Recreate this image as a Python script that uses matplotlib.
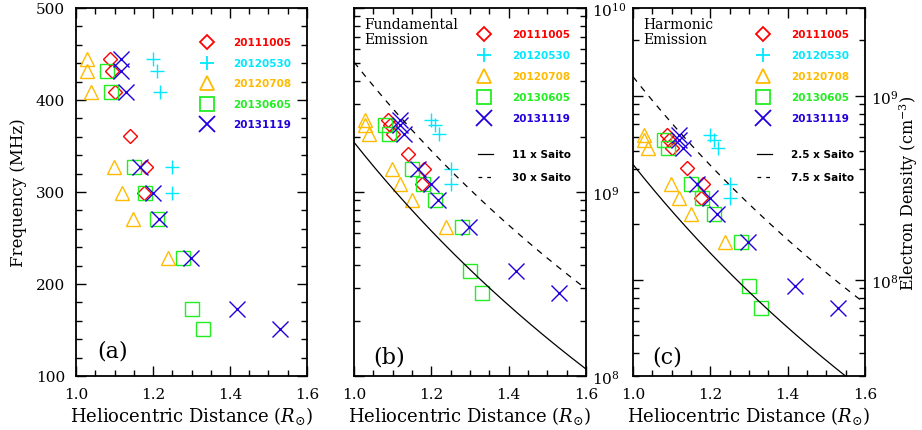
import numpy as np
import matplotlib.pyplot as plt
from matplotlib.ticker import MultipleLocator, LogLocator, NullFormatter, LogFormatterSciNotation

plt.rcParams['font.family'] = 'DejaVu Serif'
plt.rcParams['mathtext.fontset'] = 'dejavuserif'

# Source positions (R_sun) at the NRH frequencies (MHz) for each event
events = ['20111005', '20120530', '20120708', '20130605', '20131119']

f_20111005 = [445.0, 432.0, 408.8, 360.8, 327.0, 298.7]
r_20111005 = [1.088, 1.094, 1.100, 1.140, 1.181, 1.177]

f_20120530 = [445.0, 432.0, 408.8, 327.0, 298.7]
r_20120530 = [1.199, 1.210, 1.219, 1.250, 1.250]

f_20120708 = [445.0, 432.0, 408.8, 327.0, 298.7, 270.6, 228.0]
r_20120708 = [1.029, 1.029, 1.039, 1.099, 1.119, 1.149, 1.239]

f_20130605 = [432.0, 408.8, 327.0, 298.7, 270.6, 228.0, 173.2, 150.9]
r_20130605 = [1.080, 1.090, 1.150, 1.179, 1.210, 1.279, 1.300, 1.331]

f_20131119 = [445.0, 432.0, 408.8, 327.0, 298.7, 270.6, 228.0, 173.2, 150.9]
r_20131119 = [1.118, 1.118, 1.129, 1.166, 1.199, 1.216, 1.298, 1.419, 1.530]

freqs = [f_20111005, f_20120530, f_20120708, f_20130605, f_20131119]
dists = [r_20111005, r_20120530, r_20120708, r_20130605, r_20131119]

colors = ['#ff0000', '#00e8ff', '#ffbb00', '#22ee22', '#2200dd']
markers = ['D', '+', '^', 's', 'x']
msizes = [7.0, 10.5, 10.5, 10.5, 11.5]

# Saito multipliers for fundamental / harmonic panels
fund_mult = [11, 30]
harm_mult = [2.5, 7.5]


def saito(r):
    return 1.36e6 * r ** -2.14 + 1.68e8 * r ** -6.13


def density(f_mhz, harmonic=1):
    # plasma frequency f_p = 8980 sqrt(n) Hz
    return (np.asarray(f_mhz) * 1e6 / (8980.0 * harmonic)) ** 2


fig = plt.figure(figsize=(9.22, 4.31), dpi=100)
W, H = 922.0, 431.0
ax_a = fig.add_axes([76 / W, 1 - 377 / H, 231 / W, 368 / H])
ax_b = fig.add_axes([354 / W, 1 - 377 / H, 232 / W, 368 / H])
ax_c = fig.add_axes([633 / W, 1 - 377 / H, 232 / W, 368 / H])

legend_rows = [0.929, 0.872, 0.815, 0.758, 0.701]


def draw_markers(ax, yfunc):
    for f, r, c, m, ms in zip(freqs, dists, colors, markers, msizes):
        ax.plot(r, yfunc(f), linestyle='none', marker=m, markersize=ms,
                markerfacecolor='none', markeredgecolor=c, markeredgewidth=1.0,
                clip_on=False)


def draw_legend(ax, xm, xt, rows):
    for ev, c, m, ms, y in zip(events, colors, markers, msizes, rows):
        ax.plot([xm], [y], transform=ax.transAxes, linestyle='none', marker=m,
                markersize=ms, markerfacecolor='none', markeredgecolor=c,
                markeredgewidth=1.3, clip_on=False)
        ax.text(xt, y, ev, transform=ax.transAxes, color=c, fontsize=7.5,
                fontweight='bold', family='DejaVu Sans', va='center', ha='left')


def style_axis(ax):
    ax.set_xlim(1.0, 1.6)
    ax.xaxis.set_major_locator(MultipleLocator(0.2))
    ax.xaxis.set_minor_locator(MultipleLocator(0.05))
    ax.xaxis.set_major_formatter(plt.FuncFormatter(lambda v, p: f'{v:.1f}'))
    ax.tick_params(which='both', direction='in', top=True, right=True,
                   labelsize=11, width=1.0, pad=8)
    ax.tick_params(which='major', length=7)
    ax.tick_params(which='minor', length=4)
    for s in ax.spines.values():
        s.set_linewidth(1.3)
    ax.set_xlabel(r'Heliocentric Distance ($R_{\odot}$)', fontsize=13, labelpad=2)


# (a) frequency vs distance
draw_markers(ax_a, lambda f: f)
style_axis(ax_a)
ax_a.set_ylim(100, 500)
ax_a.yaxis.set_major_locator(MultipleLocator(100))
ax_a.yaxis.set_minor_locator(MultipleLocator(20))
ax_a.set_ylabel('Frequency (MHz)', fontsize=12, labelpad=6)
draw_legend(ax_a, 0.567, 0.680, [0.908, 0.851, 0.796, 0.739, 0.685])
ax_a.text(0.09, 0.068, '(a)', transform=ax_a.transAxes, fontsize=16, va='center')

r_model = np.linspace(1.0, 1.6, 200)

# (b) fundamental emission densities
draw_markers(ax_b, lambda f: density(f, 1))
ax_b.plot(r_model, fund_mult[0] * saito(r_model), color='black', lw=0.9)
ax_b.plot(r_model, fund_mult[1] * saito(r_model), color='black', lw=0.9,
          dashes=(5, 5))
ax_b.set_yscale('log')
ax_b.set_ylim(1e8, 1e10)
style_axis(ax_b)

# (c) harmonic emission densities
draw_markers(ax_c, lambda f: density(f, 2))
ax_c.plot(r_model, harm_mult[0] * saito(r_model), color='black', lw=0.9)
ax_c.plot(r_model, harm_mult[1] * saito(r_model), color='black', lw=0.9,
          dashes=(5, 5))
ax_c.set_yscale('log')
ax_c.set_ylim(3e7, 3e9)
style_axis(ax_c)
ax_c.set_ylabel(r'Electron Density (cm$^{-3}$)', fontsize=11.5,
                rotation=90, va='center', ha='center')
ax_c.yaxis.set_label_coords(1.19, 0.5)

for ax, mult, title, tag in [(ax_b, fund_mult, 'Fundamental\nEmission', '(b)'),
                             (ax_c, harm_mult, 'Harmonic\nEmission', '(c)')]:
    ax.yaxis.set_major_locator(LogLocator(base=10))
    ax.yaxis.set_minor_locator(LogLocator(base=10, subs=np.arange(2, 10)))
    ax.yaxis.set_minor_formatter(NullFormatter())
    ax.yaxis.set_major_formatter(LogFormatterSciNotation())
    ax.tick_params(axis='y', labelleft=False, labelright=True, pad=4)
    draw_legend(ax, 0.562, 0.682, legend_rows)
    for k, m in enumerate(mult):
        y = 0.603 - 0.062 * k
        line, = ax.plot([0.534, 0.597], [y, y], transform=ax.transAxes,
                        color='black', lw=0.9)
        if k == 1:
            line.set_dashes((3, 4))
        ax.text(0.682, y, f'{m:g} x Saito', transform=ax.transAxes,
                fontsize=7.5, fontweight='bold', family='DejaVu Sans',
                va='center', ha='left')
    ax.text(0.045, 0.975, title, transform=ax.transAxes, fontsize=10,
            va='top', ha='left', linespacing=1.05)
    ax.text(0.082, 0.054, tag, transform=ax.transAxes, fontsize=16, va='center')

fig.savefig('out.png', dpi=100)
